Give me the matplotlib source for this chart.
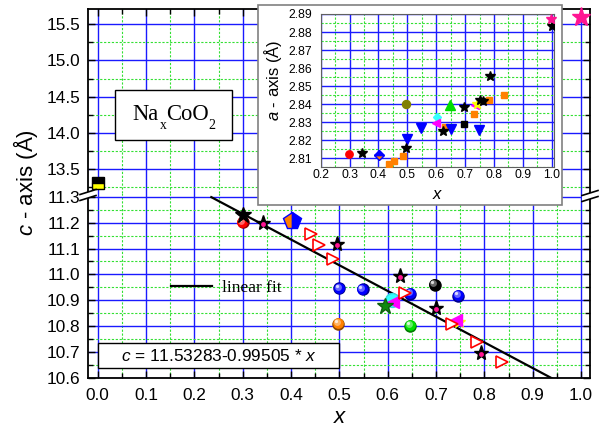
import numpy as np
import matplotlib
matplotlib.use('Agg')
import matplotlib.pyplot as plt
import matplotlib.transforms as mtransforms
from matplotlib.patches import Rectangle, Polygon
from matplotlib.lines import Line2D
from matplotlib.colors import to_rgb
from matplotlib.ticker import MultipleLocator, FormatStrFormatter

plt.rcParams['font.family'] = ['Liberation Sans', 'DejaVu Sans']
plt.rcParams['mathtext.fontset'] = 'custom'
plt.rcParams['mathtext.it'] = 'Liberation Sans:italic'
plt.rcParams['mathtext.rm'] = 'Liberation Sans'
plt.rcParams['mathtext.sf'] = 'Liberation Sans'

# ---------------- data: main plot (c-axis vs x) ----------------
fit_a, fit_b = 11.53283, -0.99505
fit_x = [0.235, 1.0]

square_x, square_c = [0.0], [13.313]
pink_big_x, pink_big_c = [1.0], [15.60]

big_star_x, big_star_c = [0.30], [11.23]
red_sph_x, red_sph_c = [0.30], [11.202]
pstar_x = [0.341, 0.495, 0.625, 0.699, 0.793]
pstar_c = [11.200, 11.118, 10.994, 10.869, 10.697]
pent_x, pent_c = [0.402], [11.208]
rtri_x = [0.441, 0.458, 0.487, 0.635, 0.733, 0.785, 0.836]
rtri_c = [11.156, 11.114, 11.059, 10.927, 10.806, 10.740, 10.662]
blue_sph_x = [0.500, 0.548, 0.647, 0.746]
blue_sph_c = [10.946, 10.943, 10.925, 10.917]
black_sph_x, black_sph_c = [0.697], [10.959]
orange_sph_x, orange_sph_c = [0.498], [10.808]
green_sph_x, green_sph_c = [0.647], [10.802]
cyan_x, cyan_c = [0.609], [10.899]
mag_x, mag_c = [0.610, 0.742], [10.894, 10.822]
yel_x, yel_c = [0.748], [10.815]
gstar_x, gstar_c = [0.595], [10.877]

# ---------------- data: inset (a-axis vs x) ----------------
in_red_x, in_red_a = [0.299], [2.8124]
in_bstar_x = [0.342, 0.495, 0.625, 0.697, 0.750, 0.761, 0.788, 1.0]
in_bstar_a = [2.8131, 2.8155, 2.8250, 2.8385, 2.8423, 2.8418, 2.8556, 2.8834]
in_pstar_x, in_pstar_a = [0.997], [2.8872]
in_osq_x = [0.437, 0.4545, 0.484, 0.632, 0.732, 0.783, 0.835]
in_osq_a = [2.8067, 2.8085, 2.8113, 2.8272, 2.8345, 2.8423, 2.8451]
in_olive_x, in_olive_a = [0.495], [2.840]
in_bdown_x = [0.499, 0.549, 0.650, 0.747]
in_bdown_a = [2.8205, 2.8266, 2.8264, 2.8257]
in_bdia_x, in_bdia_a = [0.403], [2.8117]
in_gup_x, in_gup_a = [0.648], [2.8395]
in_cdia_x, in_cdia_a = [0.603], [2.8330]
in_mag_x, in_mag_a = [0.601, 0.734], [2.8298, 2.8395]
in_bsq_x, in_bsq_a = [0.697], [2.8292]
in_ystar_x, in_ystar_a = [0.740], [2.8400]

# ---------------- figure ----------------
W, H = 605, 429
fig = plt.figure(figsize=(W / 100, H / 100), dpi=100)


def rect(l, t, r, b):
    return [l / W, 1 - b / H, (r - l) / W, (b - t) / H]


def P(x, y):
    return (x / W, 1 - y / H)


BLUE = '#1a1aff'
GREEN = '#33e033'
PINK = '#ff1493'
ORANGE = '#ff8000'

ax_up = fig.add_axes(rect(88, 9, 590, 193))
ax_lo = fig.add_axes(rect(88, 193, 590, 378))

for ax in (ax_up, ax_lo):
    ax.set_xlim(-0.0201, 1.0186)
    ax.xaxis.set_major_locator(MultipleLocator(0.1))
    ax.xaxis.set_minor_locator(MultipleLocator(0.05))
    ax.xaxis.set_major_formatter(FormatStrFormatter('%.1f'))
    ax.yaxis.set_major_formatter(FormatStrFormatter('%.1f'))
    ax.set_axisbelow(True)
    ax.grid(which='major', color=BLUE, lw=1.0)
    ax.grid(which='minor', color=GREEN, lw=0.8, ls=(0, (2, 1.5)))
    ax.tick_params(which='both', direction='in', left=True, right=True,
                   width=1.0, labelsize=12.4)
    ax.tick_params(which='major', length=5)
    ax.tick_params(which='minor', length=3.5)
    ax.tick_params(axis='y', pad=5.8)
    for s in ax.spines.values():
        s.set_linewidth(1.3)

ax_up.set_ylim(13.168, 15.711)
ax_up.yaxis.set_major_locator(MultipleLocator(0.5))
ax_up.yaxis.set_minor_locator(MultipleLocator(0.25))
ax_up.tick_params(which='both', top=True, bottom=False, labelbottom=False)
ax_up.spines['bottom'].set_visible(False)

ax_lo.set_ylim(10.5988, 11.315)
ax_lo.yaxis.set_major_locator(MultipleLocator(0.1))
ax_lo.yaxis.set_minor_locator(MultipleLocator(0.05))
ax_lo.tick_params(which='both', top=False, bottom=True)
ax_lo.tick_params(axis='x', pad=7.5)
ax_lo.spines['top'].set_visible(False)


def spheres(ax, xs, ys, color, ms, z=4):
    base = np.array(to_rgb(color))
    layers = [(1.00, base * 0.55),
              (0.86, base),
              (0.55, base + (1 - base) * 0.40),
              (0.26, base + (1 - base) * 0.85)]
    for f, col in layers:
        sh = (1 - f) * ms * 0.28
        tr = ax.transData + mtransforms.ScaledTranslation(-sh / 72, sh / 72, fig.dpi_scale_trans)
        ax.plot(xs, ys, 'o', ms=ms * f, mfc=tuple(np.clip(col, 0, 1)), mec='none',
                transform=tr, zorder=z)


# fit line
fx_arr = np.array(fit_x)
fit_line, = ax_lo.plot(fx_arr, fit_a + fit_b * fx_arr, color='black', lw=1.6, zorder=2)

# lower plot markers
spheres(ax_lo, red_sph_x, red_sph_c, 'red', 9)
ax_lo.plot(big_star_x, big_star_c, '*', ms=12, mfc='black', mec='black', zorder=5)
ax_lo.plot(pent_x, pent_c, 'p', ms=13, fillstyle='left', mfc=ORANGE,
           mfcalt='#0000ff', mec='#0000ff', mew=1, zorder=4)
spheres(ax_lo, blue_sph_x, blue_sph_c, '#0000ff', 9)
spheres(ax_lo, black_sph_x, black_sph_c, 'black', 9)
spheres(ax_lo, orange_sph_x, orange_sph_c, ORANGE, 9)
spheres(ax_lo, green_sph_x, green_sph_c, '#00e000', 9)
ax_lo.plot(cyan_x, cyan_c, 'o', ms=10, mfc='#33ffff', mec='#33dddd', zorder=4)
ax_lo.plot(yel_x, yel_c, '*', ms=9, mfc='yellow', mec='yellow', zorder=4)
ax_lo.plot(mag_x, mag_c, '<', ms=8, mfc='#ff00ff', mec='#ff00ff', zorder=4)
ax_lo.plot(gstar_x, gstar_c, '*', ms=12, mfc='#108a10', mec='#106010', zorder=5)
ax_lo.plot(rtri_x, rtri_c, '>', ms=9, mfc='white', mec='red', mew=1.2, zorder=5)
ax_lo.plot(pstar_x, pstar_c, '*', ms=11, mfc='black', mec='black', zorder=6)
ax_lo.plot(pstar_x, np.array(pstar_c) - 0.004, 'o', ms=3.5, mfc=PINK, mec='none', zorder=7)

# upper plot markers
ax_up.plot(square_x, square_c, 's', ms=8, fillstyle='top', mfc='black',
           mfcalt='yellow', mec='black', mew=1, zorder=6, clip_on=False)
ax_up.plot(pink_big_x, pink_big_c, '*', ms=14, mfc=PINK, mec=PINK, zorder=6, clip_on=False)

# legend
ax_lo.legend(handles=[Line2D([], [], color='black', lw=1.6)], labels=['linear fit'],
             loc='center left', bbox_to_anchor=P(171, 288.3),
             bbox_transform=fig.transFigure, frameon=False,
             prop=dict(family='Liberation Serif', size=12.5),
             handlelength=2.37, handletextpad=0.54, borderpad=0, borderaxespad=0)

# break marks
for cx, cy in [(88, 195), (590, 196)]:
    a = [(cx - 8, cy + 2.5 - 3), (cx + 8, cy - 2.5 - 3), (cx + 8, cy - 2.5 + 3), (cx - 8, cy + 2.5 + 3)]
    fig.add_artist(Polygon([P(*p) for p in a], closed=True, transform=fig.transFigure,
                           facecolor='white', edgecolor='none', zorder=5))
    for (p1, p2) in [(a[0], a[1]), (a[3], a[2])]:
        fig.add_artist(Line2D([P(*p1)[0], P(*p2)[0]], [P(*p1)[1], P(*p2)[1]],
                              transform=fig.transFigure, color='black', lw=1.2, zorder=6))

# axis labels
fig.text(*P(26, 183), r'$c$ - axis (Å)', rotation=90, ha='center', va='center', fontsize=16)
fig.text(*P(339, 423.3), 'x', ha='center', va='baseline', fontsize=16, style='italic')

# NaxCoO2 box
fig.add_artist(Rectangle(P(115, 140), 116.7 / W, 50 / H, transform=fig.transFigure,
                         facecolor='white', edgecolor='black', lw=1.0, zorder=2))
for s, (px, py), fs in [('Na', (132.7, 120), 16.3), ('x', (160, 129.3), 9.8),
                        ('CoO', (165.7, 120), 16.3), ('2', (208, 129.3), 10)]:
    fig.text(*P(px, py), s, family='Liberation Serif', fontsize=fs, ha='left',
             va='baseline', zorder=4)

# equation box
fig.add_artist(Rectangle(P(98.3, 367.7), 241 / W, 25 / H, transform=fig.transFigure,
                         facecolor='white', edgecolor='black', lw=1.0, zorder=2))
fig.text(*P(218.8, 361), r'$c$ = 11.53283-0.99505 * $x$', ha='center', va='baseline',
         fontsize=12.4, zorder=4)

# ---------------- inset ----------------
fig.add_artist(Rectangle(P(258, 205), 304 / W, 200 / H, transform=fig.transFigure,
                         facecolor='white', edgecolor='#808080', lw=1.2, zorder=2))
ax_in = fig.add_axes(rect(320.7, 14, 554, 167.3), zorder=3)
ax_in.set_xlim(0.2, 1.008)
ax_in.set_ylim(2.805, 2.89)
ax_in.xaxis.set_major_locator(MultipleLocator(0.1))
ax_in.xaxis.set_minor_locator(MultipleLocator(0.05))
ax_in.yaxis.set_major_locator(MultipleLocator(0.01))
ax_in.yaxis.set_minor_locator(MultipleLocator(0.005))
ax_in.xaxis.set_major_formatter(FormatStrFormatter('%.1f'))
ax_in.yaxis.set_major_formatter(FormatStrFormatter('%.2f'))
ax_in.set_axisbelow(True)
ax_in.grid(which='major', color=BLUE, lw=1.0)
ax_in.grid(which='minor', color=GREEN, lw=0.8, ls=(0, (2, 1.5)))
ax_in.tick_params(which='both', length=0, labelsize=8.8)
ax_in.tick_params(axis='x', pad=1.5)
ax_in.tick_params(axis='y', pad=6)
for s in ax_in.spines.values():
    s.set_color('#606060')
    s.set_linewidth(0.8)

ax_in.plot(in_red_x, in_red_a, 'o', ms=5.3, mfc='red', mec='red', zorder=4)
ax_in.plot(in_osq_x, in_osq_a, 's', ms=4.8, mfc=ORANGE, mec=ORANGE, zorder=4)
ax_in.plot(in_olive_x, in_olive_a, 'o', ms=5.8, mfc='#808000', mec='#808000', zorder=4)
ax_in.plot(in_bdown_x, in_bdown_a, 'v', ms=6.7, mfc='#0000ff', mec='#0000ff', zorder=4)
ax_in.plot(in_bdia_x, in_bdia_a, 'D', ms=4.6, fillstyle='bottom', mfc=ORANGE,
           mfcalt='#0000ff', mec='#0000ff', zorder=4)
ax_in.plot(in_gup_x, in_gup_a, '^', ms=6.5, mfc='#00dd00', mec='#00dd00', zorder=4)
ax_in.plot(in_cdia_x, in_cdia_a, 'D', ms=4.5, mfc='#33ffff', mec='#33ffff', zorder=4)
ax_in.plot(in_mag_x, in_mag_a, '<', ms=6, mfc='#ff00ff', mec='#ff00ff', zorder=4)
ax_in.plot(in_bsq_x, in_bsq_a, 's', ms=4.5, mfc='black', mec='black', zorder=4)
ax_in.plot(in_ystar_x, in_ystar_a, '*', ms=7.5, mfc='yellow', mec='yellow', zorder=5)
ax_in.plot(in_bstar_x, in_bstar_a, '*', ms=7, mfc='black', mec='black', zorder=5)
ax_in.plot(in_pstar_x, in_pstar_a, '*', ms=7, mfc=PINK, mec=PINK, zorder=5, clip_on=False)

fig.text(*P(273, 80), r'$a$ - axis (Å)', rotation=90, ha='center', va='center',
         fontsize=12, zorder=4)
fig.text(*P(436.7, 199.3), 'x', ha='center', va='baseline', fontsize=12,
         style='italic', zorder=4)

fig.savefig('out.png', dpi=100)
